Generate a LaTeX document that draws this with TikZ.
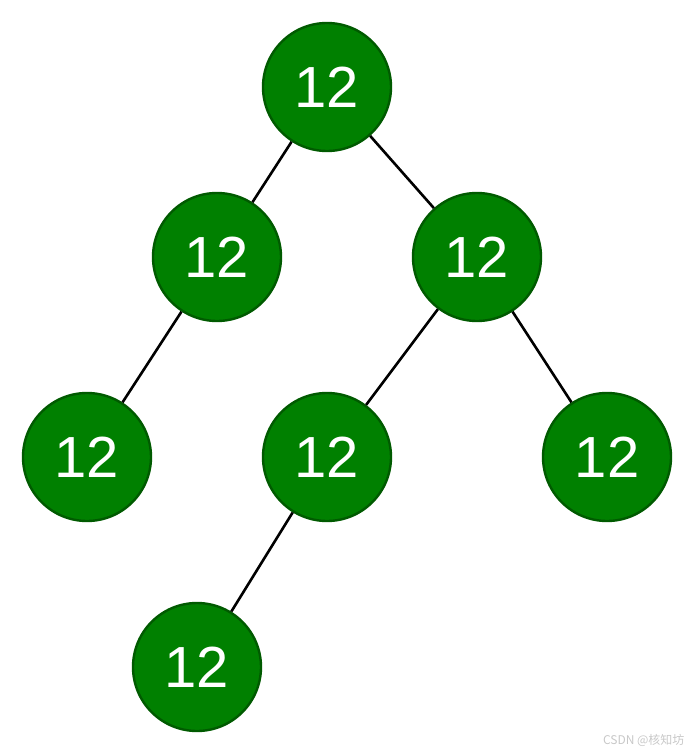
\documentclass[tikz,border=0pt]{standalone}
\usepackage{fontspec}
\setmainfont{Liberation Sans}
\newfontfamily\cjk{Noto Sans CJK SC}
\definecolor{nodefill}{HTML}{008000}
\definecolor{nodeedge}{HTML}{005A00}
\definecolor{wm}{HTML}{C8C8C8}
\begin{document}
\begin{tikzpicture}[x=1pt,y=-1pt,
  treenode/.style={circle,fill=nodefill,draw=nodeedge,line width=2.4pt,minimum size=128pt,inner sep=0pt,text=white,font=\fontsize{58}{62}\selectfont},
  link/.style={draw=black,line width=2.6pt}]
\useasboundingbox (0,0) rectangle (694,754);
\node[treenode] (r) at (327,87) {12};
\node[treenode] (a) at (217,257) {12};
\node[treenode] (b) at (477,257) {12};
\node[treenode] (c) at (87,457) {12};
\node[treenode] (d) at (327,457) {12};
\node[treenode] (e) at (607,457) {12};
\node[treenode] (f) at (197,667) {12};
\path[link] (r) -- (a);
\path[link] (r) -- (b);
\path[link] (a) -- (c);
\path[link] (b) -- (d);
\path[link] (b) -- (e);
\path[link] (d) -- (f);
\node[text=wm,font=\cjk\fontsize{12}{14}\selectfont,anchor=east] (w) at (688,740) {CSDN @核知坊};
\end{tikzpicture}
\end{document}
